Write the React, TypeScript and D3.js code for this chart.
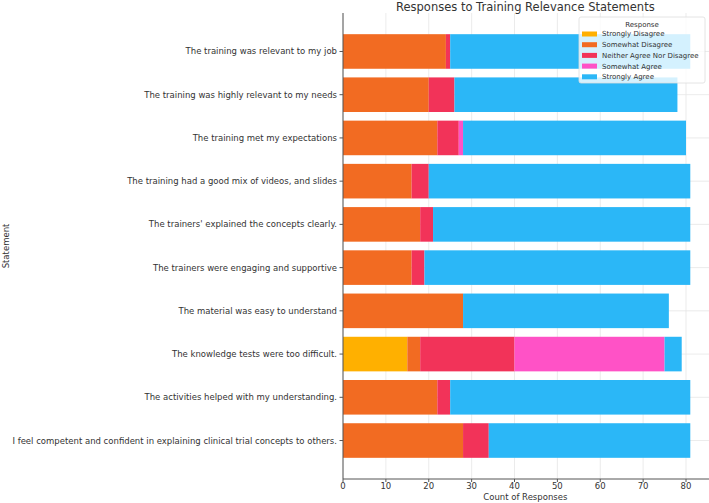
import { useEffect, useRef } from 'react'
import * as d3 from 'd3'

// statements, top to bottom
const statements = [
  'The training was relevant to my job',
  'The training was highly relevant to my needs',
  'The training met my expectations',
  'The training had a good mix of videos, and slides',
  "The trainers' explained the concepts clearly.",
  'The trainers were engaging and supportive',
  'The material was easy to understand',
  'The knowledge tests were too difficult.',
  'The activities helped with my understanding.',
  'I feel competent and confident in explaining clinical trial concepts to others.',
]

const responses = [
  'Strongly Disagree',
  'Somewhat Disagree',
  'Neither Agree Nor Disagree',
  'Somewhat Agree',
  'Strongly Agree',
]

// counts per response, same order as statements
const stronglyDisagree = [0, 0, 0, 0, 0, 0, 0, 15, 0, 0]
const somewhatDisagree = [24, 20, 22, 16, 18, 16, 28, 3, 22, 28]
const neither = [1, 6, 5, 4, 3, 3, 0, 22, 3, 6]
const somewhatAgree = [0, 0, 1, 0, 0, 0, 0, 35, 0, 0]
const stronglyAgree = [56, 52, 52, 61, 60, 62, 48, 4, 56, 47]

const xTicks = [0, 10, 20, 30, 40, 50, 60, 70, 80]

const colors = ['#ffb000', '#f26b22', '#f23359', '#ff52c6', '#2bb7f7']

export default function App() {
  const svgRef = useRef<SVGSVGElement>(null)

  useEffect(() => {
    if (!svgRef.current) return

    const width = 709
    const left = 343
    const top = 13
    const bottom = 479

    const svg = d3.select(svgRef.current)
    svg.selectAll('*').remove()

    const rows = statements.map((s, i) => ({
      statement: s,
      values: [stronglyDisagree[i], somewhatDisagree[i], neither[i], somewhatAgree[i], stronglyAgree[i]],
    }))

    const maxTotal = d3.max(rows, r => d3.sum(r.values)) as number
    const x = d3.scaleLinear()
      .domain([0, maxTotal * 1.05])
      .range([left, left + (maxTotal * 1.05) * 4.2875])

    const y = d3.scaleBand()
      .domain(statements)
      .range([top, bottom])
      .paddingInner(0.2)
      .paddingOuter(0.49)

    const font = 'DejaVu Sans, sans-serif'

    // grid
    svg.append('g')
      .selectAll('line')
      .data(xTicks)
      .enter().append('line')
      .attr('x1', d => x(d)).attr('x2', d => x(d))
      .attr('y1', top).attr('y2', bottom)
      .attr('stroke', '#e6e6e6').attr('stroke-width', 0.8)

    svg.append('g')
      .selectAll('line')
      .data(statements)
      .enter().append('line')
      .attr('x1', left).attr('x2', width)
      .attr('y1', d => (y(d) as number) + y.bandwidth() / 2)
      .attr('y2', d => (y(d) as number) + y.bandwidth() / 2)
      .attr('stroke', '#e6e6e6').attr('stroke-width', 0.8)

    // stacked bars
    const stack = d3.stack<typeof rows[0]>()
      .keys(responses)
      .value((d, key) => d.values[responses.indexOf(key)])
    const series = stack(rows)

    series.forEach((s, k) => {
      svg.append('g')
        .selectAll('rect')
        .data(s)
        .enter().append('rect')
        .attr('x', d => x(d[0]))
        .attr('y', d => y(d.data.statement) as number)
        .attr('width', d => x(d[1]) - x(d[0]))
        .attr('height', y.bandwidth())
        .attr('fill', colors[k])
    })

    // spines
    svg.append('line')
      .attr('x1', left).attr('x2', left).attr('y1', top).attr('y2', bottom)
      .attr('stroke', '#555').attr('stroke-width', 1)
    svg.append('line')
      .attr('x1', left).attr('x2', width).attr('y1', bottom).attr('y2', bottom)
      .attr('stroke', '#555').attr('stroke-width', 1)

    // x ticks
    const xt = svg.append('g').selectAll('g').data(xTicks).enter().append('g')
    xt.append('line')
      .attr('x1', d => x(d)).attr('x2', d => x(d))
      .attr('y1', bottom).attr('y2', bottom + 3)
      .attr('stroke', '#555')
    xt.append('text')
      .attr('x', d => x(d)).attr('y', bottom + 10)
      .attr('text-anchor', 'middle')
      .attr('font-family', font).attr('font-size', '8.5px').attr('fill', '#333')
      .text(d => d)

    // y ticks
    const yt = svg.append('g').selectAll('g').data(statements).enter().append('g')
    yt.append('line')
      .attr('x1', left - 3.5).attr('x2', left)
      .attr('y1', d => (y(d) as number) + y.bandwidth() / 2)
      .attr('y2', d => (y(d) as number) + y.bandwidth() / 2)
      .attr('stroke', '#555')
    yt.append('text')
      .attr('x', left - 6)
      .attr('y', d => (y(d) as number) + y.bandwidth() / 2)
      .attr('dy', '0.35em')
      .attr('text-anchor', 'end')
      .attr('font-family', font).attr('font-size', '8.5px').attr('fill', '#333')
      .text(d => d)

    // axis labels and title
    svg.append('text')
      .attr('x', (left + x.range()[1]) / 2).attr('y', 500)
      .attr('text-anchor', 'middle')
      .attr('font-family', font).attr('font-size', '8.5px').attr('fill', '#333')
      .text('Count of Responses')

    svg.append('text')
      .attr('transform', `translate(9,${(top + bottom) / 2}) rotate(-90)`)
      .attr('text-anchor', 'middle')
      .attr('font-family', font).attr('font-size', '8.5px').attr('fill', '#333')
      .text('Statement')

    svg.append('text')
      .attr('x', (left + x.range()[1]) / 2).attr('y', 10.5)
      .attr('text-anchor', 'middle')
      .attr('font-family', font).attr('font-size', '11.5px').attr('fill', '#333')
      .text('Responses to Training Relevance Statements')

    // legend
    const lg = svg.append('g').attr('transform', 'translate(579,17)')
    lg.append('rect')
      .attr('width', 126).attr('height', 66).attr('rx', 2)
      .attr('fill', 'white').attr('fill-opacity', 0.8)
      .attr('stroke', '#ddd').attr('stroke-width', 0.8)
    lg.append('text')
      .attr('x', 63).attr('y', 9.5)
      .attr('text-anchor', 'middle')
      .attr('font-family', font).attr('font-size', '7px').attr('fill', '#333')
      .text('Response')
    const items = lg.selectAll('g.item').data(responses).enter().append('g')
      .attr('class', 'item')
      .attr('transform', (d, i) => `translate(3,${17 + i * 10.7})`)
    items.append('rect')
      .attr('x', 0).attr('y', -2.5).attr('width', 15).attr('height', 5)
      .attr('fill', (d, i) => colors[i])
    items.append('text')
      .attr('x', 20).attr('dy', '0.35em')
      .attr('font-family', font).attr('font-size', '7px').attr('fill', '#333')
      .text(d => d)
  }, [])

  return (
    <svg ref={svgRef} width={709} height={503}
      style={{ position: 'absolute', left: 0, top: 0, background: 'white' }} />
  )
}
